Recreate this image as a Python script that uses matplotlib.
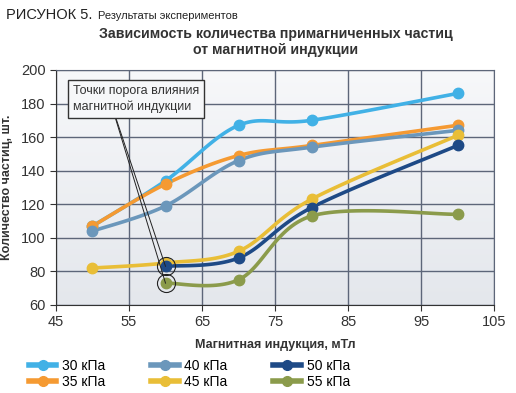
import numpy as np
import matplotlib
matplotlib.use('Agg')
import matplotlib.pyplot as plt
from matplotlib.lines import Line2D

plt.rcParams['font.family'] = ['Liberation Sans Narrow', 'Liberation Sans', 'DejaVu Sans']

labels = ['30 кПа', '35 кПа', '40 кПа', '45 кПа', '50 кПа', '55 кПа']
colors = ['#41b1e6', '#f59a32', '#6b97bb', '#e9be37', '#1e4a86', '#8b9b4b']
x_30 = [50, 60, 70, 80, 100]
y_30 = [107, 134, 167, 170, 186]
x_35 = [50, 60, 70, 80, 100]
y_35 = [107, 132, 149, 155, 167]
x_40 = [50, 60, 70, 80, 100]
y_40 = [104, 119, 146, 154, 164]
x_45 = [50, 60, 70, 80, 100]
y_45 = [82, 85, 92, 123, 161]
x_50 = [60, 70, 80, 100]
y_50 = [83, 88, 118, 155]
x_55 = [60, 70, 80, 100]
y_55 = [73, 75, 113, 114]
series = [(x_30, y_30), (x_35, y_35), (x_40, y_40),
          (x_45, y_45), (x_50, y_50), (x_55, y_55)]


def smooth(xs, ys, n=30):
    # Catmull-Rom curve through the points, like a smoothed line in a spreadsheet
    p = np.column_stack([xs, ys]).astype(float)
    p = np.vstack([p[0], p, p[-1]])
    out = []
    for i in range(1, len(p) - 2):
        p0, p1, p2, p3 = p[i - 1], p[i], p[i + 1], p[i + 2]
        t = np.linspace(0, 1, n)[:, None]
        pts = 0.5 * (2 * p1 + (-p0 + p2) * t + (2 * p0 - 5 * p1 + 4 * p2 - p3) * t ** 2
                     + (-p0 + 3 * p1 - 3 * p2 + p3) * t ** 3)
        out.append(pts)
    out = np.vstack(out)
    return out[:, 0], out[:, 1]


fig = plt.figure(figsize=(5.16, 3.93), dpi=100)
ax = fig.add_axes([0.1085, 0.224, 0.849, 0.598])

# background gradient
grad = np.linspace(0, 1, 256)[:, None]
ax.imshow(grad, extent=[45, 105, 60, 200], aspect='auto', origin='lower',
          cmap=matplotlib.colors.LinearSegmentedColormap.from_list('bg', ['#e4e7ec', '#f7f8fa']),
          zorder=0)

for (xs, ys), c, lab in zip(series, colors, labels):
    sx, sy = smooth(xs, ys)
    ax.plot(sx, sy, color=c, lw=2.6, zorder=3, solid_capstyle='round')
    ax.plot(xs, ys, 'o', color=c, ms=7.5, zorder=4)

ax.set_xlim(45, 105)
ax.set_ylim(60, 200)
ax.set_xticks(np.arange(45, 106, 10))
ax.set_yticks(np.arange(60, 201, 20))
ax.grid(True, color='#5d6679', lw=1)
for g in ax.get_xgridlines() + ax.get_ygridlines():
    g.set_zorder(1)
for s in ax.spines.values():
    s.set_color('#5d6679')
ax.spines['left'].set_color('#333333')
ax.spines['bottom'].set_color('#333333')
ax.tick_params(length=4, color='#333333', labelsize=10.5, labelcolor='#333333')

ax.set_xlabel('Магнитная индукция, мТл', fontsize=9, fontweight='bold',
              color='#333333', labelpad=7)
ax.set_ylabel('Количество частиц, шт.', fontsize=9, fontweight='bold',
              color='#333333', labelpad=6)

# threshold markers
for y0 in (y_50[0], y_55[0]):
    ax.plot(60, y0, 'o', ms=13, mfc='none', mec='#222222', mew=0.8, zorder=5)
    ax.plot([52.5, 60], [180.5, y0], color='#222222', lw=0.7, zorder=5)
ax.text(47.3, 182.5, 'Точки порога влияния\nмагнитной индукции', fontsize=9,
        color='#333333', va='center', ha='left', zorder=6, linespacing=1.35,
        bbox=dict(boxstyle='square,pad=0.4', fc='#f6f7f9', ec='#333333', lw=1))

fig.text(0.012, 0.962, 'РИСУНОК 5.', fontsize=10.5, color='#222222', va='center')
fig.text(0.19, 0.96, 'Результаты экспериментов', fontsize=8, color='#222222', va='center')
fig.text(0.535, 0.893, 'Зависимость количества примагниченных частиц\nот магнитной индукции',
         fontsize=10.2, fontweight='bold', color='#333333', ha='center', va='center',
         linespacing=1.15)

handles = [Line2D([], [], color=c, lw=4, marker='o', ms=7) for c in colors]
fig.legend(handles, labels, loc='upper left', bbox_to_anchor=(0.042, 0.105), ncol=3,
           frameon=False, fontsize=10, handlelength=2.0, columnspacing=3.3,
           handletextpad=0.4, labelspacing=0.15, borderpad=0)

plt.savefig('out.png', dpi=100)
